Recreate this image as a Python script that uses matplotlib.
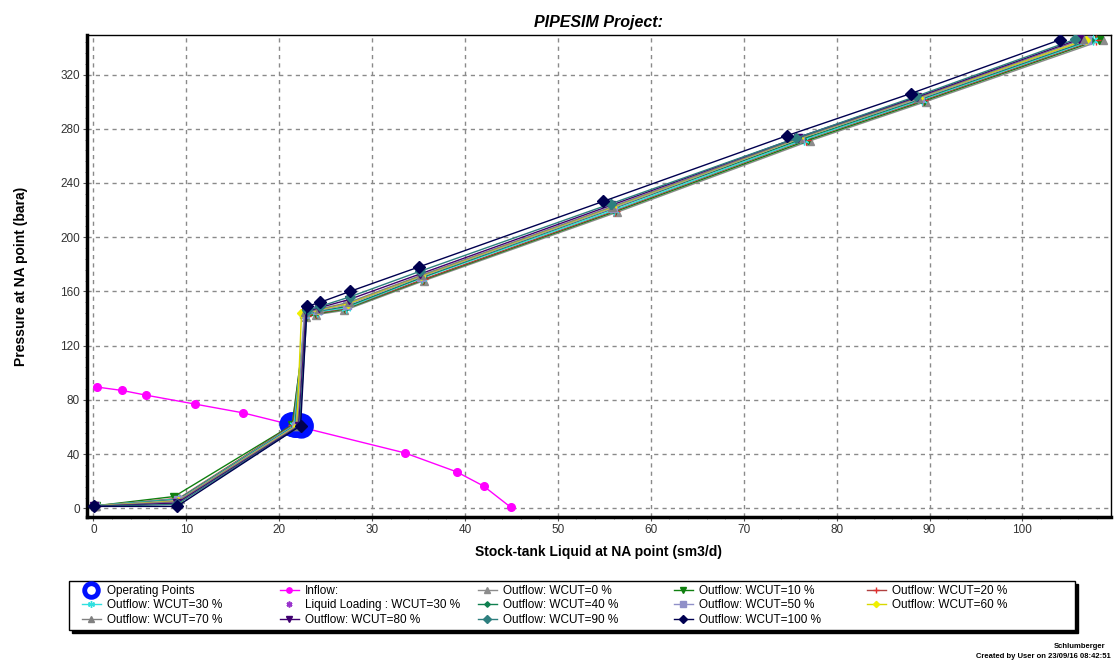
import matplotlib
matplotlib.use('Agg')
from matplotlib import pyplot as plt
from matplotlib.ticker import MultipleLocator
from matplotlib.patches import Rectangle

plt.rcParams['font.family'] = ['Liberation Sans', 'DejaVu Sans']

# inflow curve
inflow_rate = [0.4, 3.1, 5.7, 10.9, 16.1, 33.5, 39.1, 42.0, 44.9]
inflow_pres = [89.5, 87.0, 83.5, 77.0, 70.5, 41.0, 27.0, 16.5, 1.0]

# operating points (one per outflow curve)
op_rate = [21.3, 21.4, 21.5, 21.6, 21.7, 21.8, 21.9, 22.0, 22.1, 22.3, 22.4]
op_pres = [62.5, 62.3, 62.0, 61.8, 61.6, 61.5, 61.4, 61.3, 61.2, 61.0, 61.5]

# liquid loading point
ll_rate = [22.0]
ll_pres = [61.5]

# outflow curves
rate_w0 = [0.3, 9.3, 21.4, 22.9, 24.0, 27.0, 35.6, 56.4, 77.1, 89.6, 108.7]
pres_w0 = [2.0, 7.0, 61.5, 141, 143, 146, 168, 218.5, 271, 300, 345.5]
rate_w10 = [0.3, 8.7, 21.4, 22.9, 24.0, 27.1, 35.5, 56.2, 76.9, 89.4, 108.2]
pres_w10 = [2.0, 8.8, 61.5, 141, 143.5, 147, 168.5, 219, 271.5, 300.5, 345.5]
rate_w20 = [0.3, 9.2, 21.5, 22.9, 24.0, 27.1, 35.5, 56.1, 76.7, 89.3, 107.9]
pres_w20 = [2.0, 7.5, 61.5, 142, 144, 147.5, 169, 219.5, 272, 301, 345.5]
rate_w30 = [0.2, 9.2, 21.6, 22.8, 24.1, 27.2, 35.4, 56.0, 76.5, 89.2, 107.6]
pres_w30 = [2.0, 7.0, 61.2, 142.5, 145, 148, 170, 220, 272, 301.5, 345.5]
rate_w40 = [0.2, 9.1, 21.7, 22.8, 24.1, 27.3, 35.4, 55.9, 76.3, 89.1, 107.3]
pres_w40 = [1.8, 6.5, 61.0, 143, 145.5, 149, 170.5, 221, 272.5, 302, 345.5]
rate_w50 = [0.2, 9.1, 21.8, 22.7, 24.2, 27.3, 35.3, 55.9, 76.1, 89.0, 107.0]
pres_w50 = [1.8, 6.0, 61.0, 143.5, 146, 150, 171, 221.5, 273, 302.5, 345.5]
rate_w60 = [0.2, 9.1, 21.9, 22.4, 24.2, 27.4, 35.3, 55.8, 76.0, 88.9, 106.8]
pres_w60 = [1.8, 5.5, 60.8, 144, 146.5, 151, 171.5, 222, 273, 303, 345.5]
rate_w70 = [0.2, 9.0, 22.0, 22.8, 24.3, 27.5, 35.3, 55.8, 75.9, 88.8, 106.5]
pres_w70 = [1.8, 5.0, 60.8, 144.5, 147, 152, 172, 222.5, 273, 303, 346]
rate_w80 = [0.1, 9.0, 22.1, 22.9, 24.3, 27.5, 35.2, 55.7, 75.8, 88.7, 106.1]
pres_w80 = [1.5, 4.0, 60.5, 145, 148, 154, 173, 223.5, 273.5, 303.5, 346]
rate_w90 = [0.1, 9.0, 22.2, 23.0, 24.4, 27.6, 35.2, 55.7, 75.6, 88.6, 105.7]
pres_w90 = [1.5, 3.0, 60.5, 146, 149, 156, 175, 224.7, 273, 304, 346]
rate_w100 = [0.1, 9.0, 22.3, 23.0, 24.4, 27.6, 35.0, 54.9, 74.7, 88.0, 104.0]
pres_w100 = [1.5, 1.5, 61.0, 149, 152, 160, 178, 226.5, 275, 306, 345.5]

fig = plt.figure(figsize=(11.14, 6.64), dpi=100)
ax = fig.add_axes([0.078, 0.221, 0.919, 0.726])

h = {}
h['inflow'], = ax.plot(inflow_rate, inflow_pres, color='#FF00FF', lw=1, marker='o', ms=5.5,
                       mec='#FF00FF', label='Inflow:', zorder=3)
h['op'], = ax.plot(op_rate, op_pres, ls='none', marker='o', ms=14, mfc='none', mec='#0010FF',
                   mew=3.5, label='Operating Points', zorder=4)
h['ll'], = ax.plot(ll_rate, ll_pres, ls='none', marker=(6, 2, 0), ms=6, color='#9933CC',
                   mew=1.2, label='Liquid Loading : WCUT=30 %', zorder=4)


def outflow(x, y, color, marker, label, ms=5, lc=None):
    line, = ax.plot(x, y, color=lc or color, lw=1, marker=marker, ms=ms, mfc=color, mec=color,
                    label=label, zorder=5)
    return line


h['w0'] = outflow(rate_w0, pres_w0, '#8C8C8C', '^', 'Outflow: WCUT=0 %', 6)
h['w10'] = outflow(rate_w10, pres_w10, '#108010', 'v', 'Outflow: WCUT=10 %', 6)
h['w20'] = outflow(rate_w20, pres_w20, '#E03030', '+', 'Outflow: WCUT=20 %', 7, '#B04040')
h['w30'] = outflow(rate_w30, pres_w30, '#30E0E0', (6, 2, 0), 'Outflow: WCUT=30 %', 7)
h['w40'] = outflow(rate_w40, pres_w40, '#108050', 'D', 'Outflow: WCUT=40 %', 4)
h['w50'] = outflow(rate_w50, pres_w50, '#9090C8', 's', 'Outflow: WCUT=50 %', 6)
h['w60'] = outflow(rate_w60, pres_w60, '#F0F000', 'D', 'Outflow: WCUT=60 %', 4.5, '#D8D800')
h['w70'] = outflow(rate_w70, pres_w70, '#808080', '^', 'Outflow: WCUT=70 %', 6)
h['w80'] = outflow(rate_w80, pres_w80, '#400070', 'v', 'Outflow: WCUT=80 %', 6)
h['w90'] = outflow(rate_w90, pres_w90, '#2E7F7F', 'D', 'Outflow: WCUT=90 %', 5.5)
h['w100'] = outflow(rate_w100, pres_w100, '#000050', 'D', 'Outflow: WCUT=100 %', 6)

ax.set_xlim(-0.7, 109.5)
ax.set_ylim(-6.5, 349)
ax.xaxis.set_major_locator(MultipleLocator(10))
ax.xaxis.set_minor_locator(MultipleLocator(2))
ax.yaxis.set_major_locator(MultipleLocator(40))
ax.yaxis.set_minor_locator(MultipleLocator(8))
ax.tick_params(which='major', length=3, pad=2, labelsize=8.5, labelcolor='#333333', color='#555555')
ax.tick_params(which='minor', length=1.5, color='#777777')
ax.grid(True, which='major', color='#8A8A8A', ls=(0, (3, 3)), lw=1)
for side in ['left', 'bottom']:
    ax.spines[side].set_linewidth(2.5)
for side in ['top', 'right']:
    ax.spines[side].set_linewidth(1)

ax.set_title('PIPESIM Project:', fontsize=11.5, fontweight='bold', fontstyle='italic', pad=6)
ax.set_xlabel('Stock-tank Liquid at NA point (sm3/d)', fontsize=10, fontweight='bold', labelpad=6)
ax.set_ylabel('Pressure at NA point (bara)', fontsize=10, fontweight='bold', labelpad=23)

# legend box with black shadow, in figure pixels
box_x0, box_y0, box_w, box_h = 69, 34, 1006, 49
fig.patches.append(Rectangle((box_x0 + 3, box_y0 - 3), box_w, box_h, transform=None,
                             facecolor='black', edgecolor='black', zorder=1))
fig.patches.append(Rectangle((box_x0, box_y0), box_w, box_h, transform=None,
                             facecolor='white', edgecolor='black', lw=1, zorder=2))

# one legend per column so every column has the same pitch
columns = [['op', 'w30', 'w70'], ['inflow', 'll', 'w80'], ['w0', 'w40', 'w90'],
           ['w10', 'w50', 'w100'], ['w20', 'w60']]
col_left = [82, 280, 478, 674, 867]
for keys, xl in zip(columns, col_left):
    leg = fig.legend([h[k] for k in keys], [h[k].get_label() for k in keys],
                     loc='upper left', bbox_to_anchor=(xl / 1114, 1 - 585 / 664),
                     frameon=False, fontsize=8.5, handlelength=1.6, handletextpad=0.5,
                     labelspacing=0.2, borderpad=0, borderaxespad=0, markerscale=0.7)
    leg.set_zorder(3)

fig.text(0.992, 0.027, 'Schlumberger', ha='right', va='center', fontsize=5.5, fontweight='bold')
fig.text(0.997, 0.012, 'Created by User on 23/09/16 08:42:51', ha='right', va='center',
         fontsize=5.5, fontweight='bold')

plt.savefig('out.png', dpi=100)
